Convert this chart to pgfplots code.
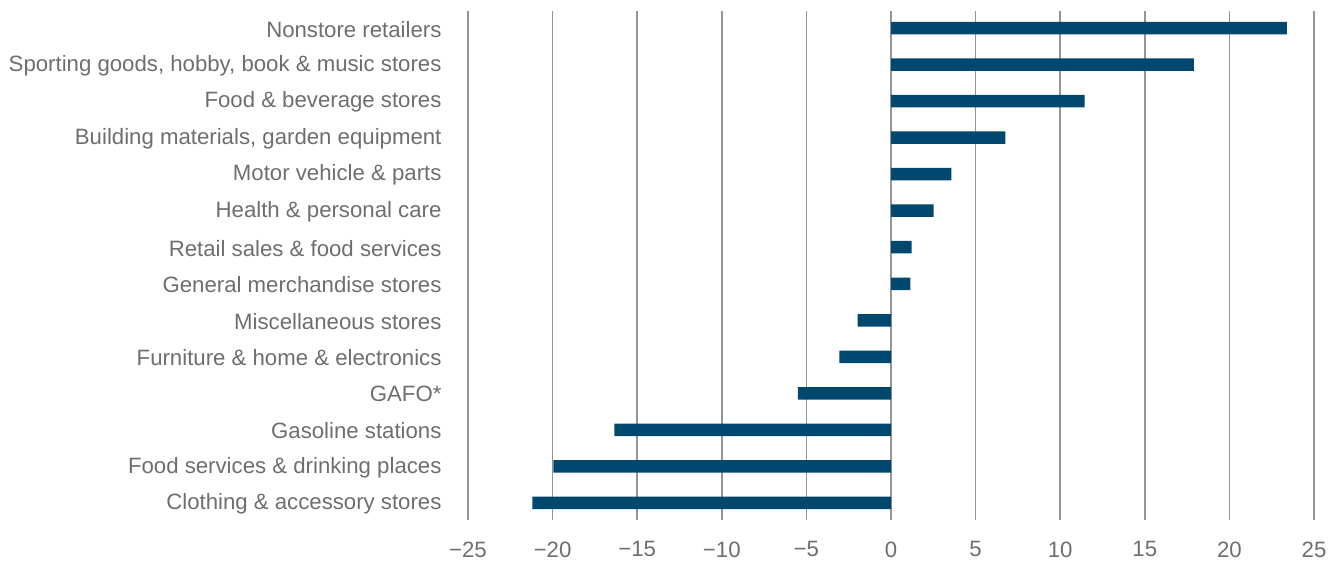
\documentclass[border=0pt]{standalone}
\usepackage{pgfplots}
\pgfplotsset{compat=1.18}
\usepackage{fontspec}
\setmainfont{Liberation Sans}
\definecolor{barblue}{HTML}{00486E}
\definecolor{txtgray}{HTML}{6E6E6E}
\definecolor{gridgray}{HTML}{959595}
\begin{document}
\begin{tikzpicture}
\begin{axis}[
  scale only axis,
  width=846pt, height=509pt,
  xmin=-25, xmax=25,
  ymin=-0.47, ymax=13.47,
  y dir=reverse,
  xbar, bar width=12.5pt,
  axis line style={draw=none},
  major tick length=0pt,
  xtick={-25,-20,...,25},
  xticklabels={−25,−20,−15,−10,−5,0,5,10,15,20,25},
  ytick={0,...,13},
  yticklabels={Nonstore retailers,{Sporting goods, hobby, book \& music stores},Food \& beverage stores,{Building materials, garden equipment},Motor vehicle \& parts,Health \& personal care,Retail sales \& food services,General merchandise stores,Miscellaneous stores,Furniture \& home \& electronics,GAFO*,Gasoline stations,Food services \& drinking places,Clothing \& accessory stores},
  xmajorgrids, ymajorgrids=false,
  grid style={gridgray, line width=1.6pt},
  tick label style={font=\fontsize{22.2}{26}\selectfont, text=txtgray},
  yticklabel style={xshift=-23pt, yshift=-1pt},
  xticklabel style={yshift=-18pt},
  clip=false,
]
\addplot[fill=barblue, draw=none] coordinates {
(23.4,0) (17.9,1) (11.45,2) (6.76,3) (3.57,4) (2.52,5) (1.22,6) (1.14,7)
(-1.97,8) (-3.05,9) (-5.5,10) (-16.35,11) (-19.96,12) (-21.2,13)};
\end{axis}
\path[use as bounding box] (current axis.south west) ++(-468pt,-42pt) rectangle ([shift={(27pt,11pt)}]current axis.north east);
\end{tikzpicture}
\end{document}
